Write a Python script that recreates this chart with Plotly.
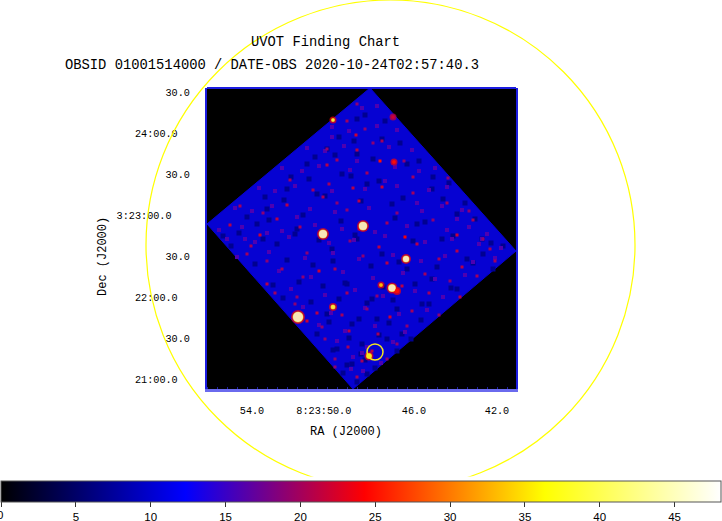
import plotly.graph_objects as go

# image is in detector pixels (column from left, row from bottom), sky labels only on ticks
footprint_col = [163, 309, 146, 0, 163]
footprint_row = [301, 138, 0, 165, 301]

ra_tick_col = [45, 126, 207, 290]
ra_tick_text = ["54.0", "8:23:50.0\u00a0\u00a0\u00a0", "46.0", "42.0"]
dec_tick_row = [10, 51, 92, 133, 174, 215, 256, 297]
dec_tick_text = ["21:00.0\u00a0\u00a0", "30.0", "22:00.0\u00a0\u00a0", "30.0",
                 "3:23:00.0\u00a0\u00a0\u00a0", "30.0", "24:00.0\u00a0\u00a0", "30.0"]

# brighter background pixels
hot_col = [149, 173, 120, 130, 83, 80, 33, 56, 23, 53, 93, 106, 146, 175, 206, 241, 250, 198, 266, 226,
           180, 140, 160, 133, 150, 166, 206, 190, 116, 70, 44, 60, 100, 210, 232, 276, 288, 255, 243,
           218, 180, 156, 128, 112, 96, 75, 60, 40, 90, 140, 170, 195, 222, 248, 270, 253, 232, 205, 183,
           160, 135, 110, 88, 68, 115, 142, 171, 200, 226, 212, 190, 165, 141, 118, 100, 128, 155, 180, 205,
           170, 150, 128, 110, 130, 152, 172, 143, 122, 158, 140, 150, 250, 283, 262, 240, 197, 175, 152, 120]
hot_row = [254, 228, 224, 229, 209, 184, 183, 176, 164, 154, 162, 199, 201, 202, 196, 211, 154, 152, 169, 169,
           166, 179, 216, 276, 239, 246, 212, 176, 192, 170, 143, 128, 136, 145, 130, 150, 128, 122, 108,
           115, 126, 133, 120, 118, 112, 120, 105, 135, 92, 96, 93, 103, 96, 84, 113, 92, 74, 78, 72,
           80, 74, 76, 85, 96, 62, 58, 55, 63, 60, 48, 45, 38, 42, 50, 68, 30, 28, 30, 38,
           18, 12, 22, 40, 186, 160, 142, 148, 205, 260, 268, 285, 138, 140, 178, 186, 228, 248, 188, 240]
hot_val = [22, 25, 21, 20, 20, 21, 20, 19, 21, 22, 20, 20, 21, 22, 20, 19, 22, 24, 20, 19,
           20, 19, 20, 20, 21, 19, 20, 19, 20, 21, 20, 19, 19, 21, 20, 19, 20, 21, 19,
           20, 21, 19, 20, 22, 19, 20, 21, 20, 19, 20, 19, 21, 20, 19, 20, 21, 19, 20, 22,
           19, 20, 21, 19, 20, 19, 21, 20, 19, 20, 20, 19, 21, 20, 19, 22, 19, 20, 19, 20,
           21, 20, 19, 20, 19, 20, 21, 19, 20, 19, 20, 19, 21, 20, 19, 20, 19, 20, 21, 19]

# purple background pixels
mid_col = [155, 170, 125, 142, 170, 190, 100, 118, 137, 182, 205, 75, 95, 112, 143, 188, 212, 228, 52, 68,
           88, 125, 158, 190, 222, 240, 28, 45, 65, 103, 128, 162, 215, 235, 255, 12, 35, 75, 108, 135,
           168, 200, 240, 262, 280, 20, 48, 82, 122, 147, 178, 218, 245, 272, 294, 30, 62, 98, 126, 152,
           186, 214, 238, 266, 288, 42, 72, 104, 136, 166, 196, 228, 258, 280, 55, 84, 118, 148, 176, 208,
           236, 262, 70, 96, 124, 158, 192, 220, 248, 86, 112, 138, 168, 198, 232, 100, 130, 160, 186, 216,
           116, 146, 174, 200, 128, 156, 184, 134, 166, 144, 155, 150, 210, 90, 60, 38, 250, 275, 178, 125]
mid_row = [281, 283, 262, 258, 263, 259, 241, 238, 243, 242, 239, 221, 218, 223, 219, 222, 218, 221, 201, 198,
           203, 198, 200, 203, 199, 202, 181, 178, 183, 180, 177, 181, 178, 183, 179, 159, 162, 158, 164, 160,
           157, 163, 159, 162, 155, 150, 147, 152, 146, 149, 153, 147, 150, 145, 141, 132, 137, 131, 136, 130,
           134, 128, 133, 127, 131, 115, 118, 112, 117, 111, 116, 110, 114, 109, 96, 100, 94, 99, 93, 98,
           92, 97, 78, 82, 76, 81, 75, 79, 73, 60, 64, 58, 63, 57, 62, 44, 48, 42, 47, 41,
           28, 32, 26, 31, 14, 18, 12, 8, 6, 20, 36, 228, 186, 172, 156, 150, 170, 150, 208, 252]
mid_val = [16] * len(mid_col)

# darker background pixels
dim_col = [150, 120, 100, 80, 60, 175, 200, 225, 250, 275, 135, 110, 160, 185, 210, 235, 260, 90, 70, 50,
           125, 150, 175, 200, 225, 250, 140, 165, 190, 215, 120, 145, 170, 195, 130, 155, 180, 145, 160, 150,
           158, 178, 132, 147, 193, 108, 128, 166, 212, 84, 102, 144, 172, 226, 242, 58, 77, 118, 154, 196,
           236, 258, 40, 62, 96, 134, 188, 218, 268, 284, 16, 32, 56, 88, 112, 148, 206, 246, 276, 296,
           24, 48, 80, 106, 126, 164, 192, 230, 266, 286, 38, 66, 92, 116, 138, 176, 208, 244, 272, 52,
           76, 104, 132, 160, 186, 222, 254, 68, 94, 122, 152, 182, 214, 240, 82, 110, 142, 172, 204, 98,
           126, 154, 190, 112, 140, 168, 124, 150, 136, 158]
dim_row = [270, 240, 225, 200, 180, 250, 225, 200, 175, 150, 215, 195, 205, 185, 165, 150, 130, 160, 145, 165,
           140, 150, 135, 120, 110, 100, 105, 90, 80, 85, 75, 65, 70, 55, 40, 45, 50, 25, 15, 235,
           274, 268, 252, 248, 246, 232, 234, 230, 228, 212, 210, 213, 208, 212, 206, 192, 189, 193, 188, 191,
           190, 186, 172, 169, 174, 168, 171, 167, 170, 146, 153, 156, 150, 155, 149, 154, 148, 153, 135, 143,
           143, 125, 129, 124, 128, 123, 127, 122, 126, 120, 108, 104, 107, 103, 106, 102, 105, 101, 104, 88,
           91, 87, 90, 86, 89, 85, 82, 68, 71, 67, 70, 66, 69, 65, 52, 55, 51, 54, 50, 36,
           39, 35, 38, 22, 24, 21, 10, 7, 16, 29]
dim_val = [7] * len(dim_col)

# point sources: detector position and apparent width in pixels
src_col = [126, 186, 187, 156, 116, 199, 174, 185, 190, 126, 91, 162]
src_row = [269, 272, 227, 163, 155, 130, 104, 101, 98, 82, 72, 33]
src_peak = [40, 22, 25, 48, 48, 48, 34, 48, 25, 40, 48, 38]
src_width = [3, 3, 3, 8, 8, 6, 3, 7, 4, 4, 10, 5]

target_col = 168
target_row = 37

cbar_vals = [0, 5, 10, 15, 20, 25, 30, 35, 40, 45]


# drop pixels that fall off the exposed part of the detector
def on_footprint(c, r):
    return (r - 165 <= c * 136 / 163 and r - 301 <= (163 - c) * 163 / 146
            and r >= (146 - c) * 165 / 146 and r >= (c - 146) * 138 / 163)


def pixels(cols, rows, vals):
    kept = [(c, r, v) for c, r, v in zip(cols, rows, vals) if on_footprint(c, r)]
    return [k[0] for k in kept], [k[1] for k in kept], [k[2] for k in kept]


fig = go.Figure()
fig.add_trace(go.Scatter(x=footprint_col, y=footprint_row, mode="lines", fill="toself",
                         fillcolor="#0602d2", line=dict(color="#0602d2", width=1), hoverinfo="skip"))
for cols, rows, vals, size in [(dim_col, dim_row, dim_val, 5), (mid_col, mid_row, mid_val, 4), (hot_col, hot_row, hot_val, 3)]:
    c, r, v = pixels(cols, rows, vals)
    fig.add_trace(go.Scatter(x=c, y=r, mode="markers",
                             marker=dict(symbol="square", size=size, color=v, coloraxis="coloraxis", line_width=0)))
# halo, then ring, then core
fig.add_trace(go.Scatter(x=src_col, y=src_row, mode="markers",
                         marker=dict(symbol="circle", size=[w + 4 for w in src_width], color=[min(p, 24) for p in src_peak],
                                     coloraxis="coloraxis", line_width=0)))
fig.add_trace(go.Scatter(x=src_col, y=src_row, mode="markers",
                         marker=dict(symbol="circle", size=[w + 1 for w in src_width],
                                     color=[min(p, 36) for p in src_peak], coloraxis="coloraxis", line_width=0)))
fig.add_trace(go.Scatter(x=src_col, y=src_row, mode="markers",
                         marker=dict(symbol="circle", size=src_width, color=src_peak, coloraxis="coloraxis", line_width=0)))

# target circle
fig.add_shape(type="circle", xref="x", yref="y", x0=target_col - 8, x1=target_col + 8,
              y0=target_row - 8, y1=target_row + 8, line=dict(color="#f5e61e", width=1.5))
# big field circle runs over the whole page
fig.add_shape(type="circle", xref="paper", yref="paper", x0=146 / 722, x1=635 / 722,
              y0=31 / 521, y1=1.0, line=dict(color="#ffff00", width=1.2), layer="above")
fig.add_shape(type="rect", xref="paper", yref="paper", x0=0, x1=1, y0=40 / 521, y1=44.5 / 521,
              fillcolor="white", line_width=0, layer="above")
fig.add_shape(type="line", xref="x domain", yref="y domain", x0=0, x1=1, y0=1, y1=1,
              line=dict(color="#1c1ce0", width=2))

mono = "Liberation Mono"
fig.add_annotation(text="UVOT Finding Chart", xref="paper", yref="paper", x=325 / 722, y=(521 - 43) / 521,
                   xanchor="center", yanchor="middle", showarrow=False, font=dict(family=mono, size=13.8, color="black"))
fig.add_annotation(text="OBSID 01001514000 / DATE-OBS 2020-10-24T02:57:40.3", xref="paper", yref="paper",
                   x=271.5 / 722, y=(521 - 65) / 521, xanchor="center", yanchor="middle", showarrow=False,
                   font=dict(family=mono, size=13.8, color="black"))
fig.add_annotation(text="RA (J2000)", xref="paper", yref="paper", x=345.5 / 722, y=(521 - 432) / 521,
                   xanchor="center", yanchor="middle", showarrow=False, font=dict(family=mono, size=12, color="black"))
fig.add_annotation(text="Dec (J2000)", xref="paper", yref="paper", x=103 / 722, y=(521 - 257) / 521,
                   xanchor="center", yanchor="middle", showarrow=False, textangle=-90,
                   font=dict(family=mono, size=12, color="black"))
# first colorbar label sits half off the page
fig.add_annotation(text="0", xref="paper", yref="paper", x=0, y=(521 - 515) / 521, xanchor="center", yanchor="middle",
                   showarrow=False, font=dict(family="Liberation Sans", size=11.5, color="black"))

fig.update_layout(
    width=722, height=521, margin=dict(l=0, r=0, t=0, b=0, autoexpand=False),
    paper_bgcolor="white", plot_bgcolor="black", showlegend=False,
    coloraxis=dict(
        cmin=0, cmax=48.1,
        colorscale=[[0, "#000000"], [0.256, "#0000ff"], [0.505, "#ff0000"], [0.755, "#ffff00"], [1, "#ffffff"]],
        colorbar=dict(orientation="h", xref="container", yref="container", x=0.5, xanchor="center",
                      y=40 / 521, yanchor="top", lenmode="pixels", len=720, thickness=21,
                      tickvals=cbar_vals, ticks="outside", ticklen=5, tickcolor="#333333",
                      tickfont=dict(family="Liberation Sans", size=11.5, color="black"),
                      outlinecolor="#555555", outlinewidth=1, xpad=0, ypad=0),
    ),
    xaxis=dict(domain=[207 / 722, 516 / 722], range=[0, 309], tickmode="array", tickvals=ra_tick_col,
               ticktext=ra_tick_text, tickfont=dict(family=mono, size=10.2, color="black"), ticks="",
               ticklabelstandoff=10, showgrid=False, zeroline=False, showline=True, linecolor="#6a6aee", linewidth=3,
               minor=dict(dtick=10, ticks="inside", ticklen=2, tickcolor="#2020a0", showgrid=False)),
    yaxis=dict(domain=[132 / 521, 433 / 521], range=[0, 301], tickmode="array", tickvals=dec_tick_row,
               ticktext=dec_tick_text, tickfont=dict(family=mono, size=10.2, color="black"), ticks="",
               ticklabelstandoff=13, showgrid=False, zeroline=False, showline=True, linecolor="#1c1ce0", linewidth=2,
               mirror=True),
)

fig.write_html("out.html", config={"displayModeBar": False}, post_script="document.body.style.margin='0';")
